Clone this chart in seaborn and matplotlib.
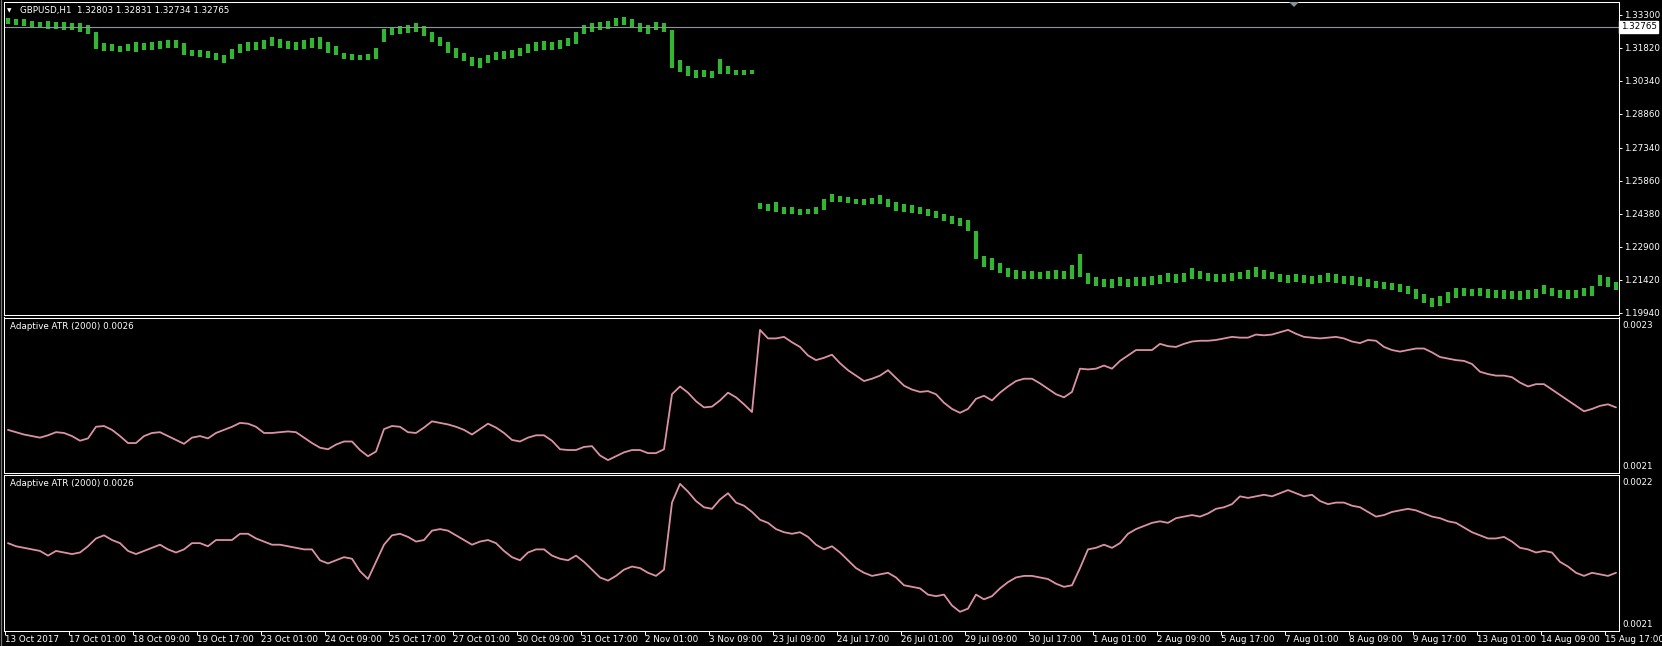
import numpy as np
import pandas as pd
import seaborn as sns
import matplotlib.pyplot as plt
from matplotlib.lines import Line2D
from matplotlib.patches import Polygon

# header texts
symbol_title = "GBPUSD,H1  1.32803 1.32831 1.32734 1.32765"
indicator_title = "Adaptive ATR (2000) 0.0026"
bid_price = 1.32765

# H1 bars, one sample every 4 bars (Oct/Nov 2017 then Jul/Aug)
price_high = [
    1.3316, 1.3311, 1.3311, 1.3302, 1.3297, 1.3302, 1.3297, 1.3297, 1.3292, 1.3292,
    1.3283, 1.3254, 1.3202, 1.3197, 1.3192, 1.3197, 1.3207, 1.3202, 1.3207, 1.3211,
    1.3216, 1.3216, 1.3202, 1.3173, 1.3173, 1.3169, 1.3159, 1.3150, 1.3178, 1.3197,
    1.3207, 1.3207, 1.3216, 1.3230, 1.3221, 1.3211, 1.3207, 1.3216, 1.3226, 1.3230,
    1.3207, 1.3188, 1.3159, 1.3154, 1.3150, 1.3154, 1.3183, 1.3268, 1.3273, 1.3278,
    1.3283, 1.3292, 1.3278, 1.3254, 1.3230, 1.3207, 1.3183, 1.3159, 1.3140, 1.3135,
    1.3150, 1.3164, 1.3169, 1.3173, 1.3183, 1.3197, 1.3207, 1.3211, 1.3207, 1.3216,
    1.3226, 1.3254, 1.3283, 1.3292, 1.3297, 1.3302, 1.3316, 1.3321, 1.3311, 1.3292,
    1.3283, 1.3297, 1.3292, 1.3264, 1.3126, 1.3102, 1.3083, 1.3083, 1.3078, 1.3131,
    1.3102, 1.3083, 1.3083, 1.3083,
    1.2485, 1.2480, 1.2489, 1.2470, 1.2466, 1.2461,
    1.2461, 1.2466, 1.2504, 1.2527, 1.2518, 1.2513, 1.2504, 1.2504, 1.2508, 1.2523,
    1.2504, 1.2489, 1.2480, 1.2475, 1.2470, 1.2461, 1.2451, 1.2437, 1.2428, 1.2418,
    1.2409, 1.2361, 1.2247, 1.2238, 1.2218, 1.2195, 1.2185, 1.2181, 1.2181, 1.2176,
    1.2181, 1.2185, 1.2181, 1.2209, 1.2257, 1.2171, 1.2152, 1.2147, 1.2143, 1.2152,
    1.2147, 1.2152, 1.2152, 1.2157, 1.2162, 1.2171, 1.2166, 1.2171, 1.2195, 1.2181,
    1.2171, 1.2166, 1.2166, 1.2171, 1.2176, 1.2185, 1.2200, 1.2185, 1.2176, 1.2166,
    1.2162, 1.2166, 1.2162, 1.2157, 1.2162, 1.2171, 1.2166, 1.2157, 1.2157, 1.2152,
    1.2143, 1.2138, 1.2133, 1.2128, 1.2124, 1.2114, 1.2100, 1.2076, 1.2062, 1.2067,
    1.2086, 1.2105, 1.2105, 1.2100, 1.2105, 1.2100, 1.2095, 1.2095, 1.2090, 1.2090,
    1.2095, 1.2100, 1.2119, 1.2105, 1.2095, 1.2095, 1.2095, 1.2105, 1.2114, 1.2162,
    1.2152, 1.2133,
]
price_low = [
    1.3287, 1.3283, 1.3278, 1.3273, 1.3273, 1.3268, 1.3268, 1.3264, 1.3264, 1.3254,
    1.3245, 1.3178, 1.3169, 1.3169, 1.3164, 1.3169, 1.3164, 1.3173, 1.3173, 1.3178,
    1.3183, 1.3183, 1.3150, 1.3145, 1.3140, 1.3135, 1.3126, 1.3112, 1.3131, 1.3159,
    1.3169, 1.3173, 1.3178, 1.3188, 1.3183, 1.3178, 1.3173, 1.3178, 1.3183, 1.3178,
    1.3159, 1.3150, 1.3131, 1.3126, 1.3126, 1.3126, 1.3131, 1.3207, 1.3240, 1.3245,
    1.3249, 1.3254, 1.3235, 1.3207, 1.3188, 1.3159, 1.3135, 1.3121, 1.3102, 1.3093,
    1.3112, 1.3126, 1.3131, 1.3135, 1.3145, 1.3159, 1.3169, 1.3173, 1.3173, 1.3178,
    1.3188, 1.3197, 1.3245, 1.3254, 1.3264, 1.3268, 1.3278, 1.3283, 1.3273, 1.3254,
    1.3245, 1.3264, 1.3254, 1.3093, 1.3074, 1.3055, 1.3045, 1.3050, 1.3045, 1.3064,
    1.3064, 1.3059, 1.3059, 1.3064,
    1.2461, 1.2451, 1.2447, 1.2437, 1.2437, 1.2432,
    1.2437, 1.2437, 1.2456, 1.2489, 1.2489, 1.2485, 1.2480, 1.2475, 1.2480, 1.2480,
    1.2466, 1.2451, 1.2447, 1.2442, 1.2437, 1.2428, 1.2418, 1.2404, 1.2394, 1.2385,
    1.2361, 1.2233, 1.2200, 1.2185, 1.2171, 1.2152, 1.2147, 1.2147, 1.2143, 1.2143,
    1.2147, 1.2147, 1.2143, 1.2147, 1.2152, 1.2124, 1.2114, 1.2109, 1.2105, 1.2114,
    1.2109, 1.2114, 1.2114, 1.2119, 1.2124, 1.2133, 1.2128, 1.2133, 1.2147, 1.2143,
    1.2138, 1.2133, 1.2133, 1.2138, 1.2143, 1.2147, 1.2152, 1.2147, 1.2143, 1.2133,
    1.2128, 1.2133, 1.2128, 1.2124, 1.2128, 1.2133, 1.2128, 1.2124, 1.2119, 1.2114,
    1.2109, 1.2105, 1.2100, 1.2095, 1.2086, 1.2076, 1.2057, 1.2038, 1.2019, 1.2024,
    1.2038, 1.2062, 1.2067, 1.2067, 1.2067, 1.2062, 1.2062, 1.2057, 1.2057, 1.2052,
    1.2057, 1.2062, 1.2076, 1.2067, 1.2062, 1.2057, 1.2062, 1.2067, 1.2071, 1.2114,
    1.2109, 1.2095,
]

# Adaptive ATR, upper sub-window
atr_upper = [
    0.002155, 0.002152, 0.002149, 0.002147, 0.002145, 0.002148, 0.002152, 0.002151, 0.002147, 0.002141,
    0.002144, 0.002159, 0.002160, 0.002155, 0.002147, 0.002138, 0.002138, 0.002147, 0.002151, 0.002152,
    0.002147, 0.002142, 0.002137, 0.002145, 0.002147, 0.002144, 0.002151, 0.002155, 0.002159, 0.002164,
    0.002163, 0.002159, 0.002151, 0.002151, 0.002152, 0.002153, 0.002152, 0.002145, 0.002138, 0.002132,
    0.002130, 0.002136, 0.002140, 0.002140, 0.002129, 0.002121, 0.002127, 0.002156, 0.002160, 0.002159,
    0.002152, 0.002151, 0.002158, 0.002166, 0.002164, 0.002162, 0.002159, 0.002155, 0.002149, 0.002156,
    0.002163, 0.002158, 0.002151, 0.002142, 0.002140, 0.002145, 0.002148, 0.002148, 0.002141, 0.002130,
    0.002129, 0.002129, 0.002133, 0.002134, 0.002122, 0.002116, 0.002121, 0.002126, 0.002129, 0.002129,
    0.002125, 0.002125, 0.002130, 0.002201, 0.002211, 0.002203, 0.002192, 0.002184, 0.002185, 0.002193,
    0.002203, 0.002197, 0.002188, 0.002178, 0.002284, 0.002273, 0.002273, 0.002275, 0.002268, 0.002262,
    0.002251, 0.002245, 0.002248, 0.002252, 0.002241, 0.002232, 0.002225, 0.002218, 0.002221, 0.002225,
    0.002232, 0.002222, 0.002212, 0.002207, 0.002204, 0.002205, 0.002201, 0.002190, 0.002182, 0.002177,
    0.002182, 0.002195, 0.002199, 0.002193, 0.002203, 0.002211, 0.002218, 0.002221, 0.002221, 0.002215,
    0.002208, 0.002201, 0.002197, 0.002204, 0.002234, 0.002233, 0.002234, 0.002238, 0.002234, 0.002244,
    0.002251, 0.002258, 0.002258, 0.002258, 0.002266, 0.002263, 0.002262, 0.002266, 0.002269, 0.002270,
    0.002270, 0.002271, 0.002273, 0.002275, 0.002274, 0.002274, 0.002278, 0.002277, 0.002278, 0.002281,
    0.002284, 0.002279, 0.002275, 0.002274, 0.002273, 0.002274, 0.002275, 0.002273, 0.002269, 0.002267,
    0.002271, 0.002270, 0.002262, 0.002258, 0.002256, 0.002258, 0.002260, 0.002260, 0.002255, 0.002249,
    0.002247, 0.002245, 0.002244, 0.002240, 0.002230, 0.002227, 0.002225, 0.002225, 0.002223, 0.002216,
    0.002211, 0.002214, 0.002214, 0.002207, 0.002200, 0.002193, 0.002186, 0.002179, 0.002182, 0.002186,
    0.002188, 0.002184,
]

# Adaptive ATR, lower sub-window
atr_lower = [
    0.002156, 0.002154, 0.002153, 0.002152, 0.002151, 0.002148, 0.002151, 0.002150, 0.002149, 0.002150,
    0.002154, 0.002159, 0.002161, 0.002158, 0.002156, 0.002151, 0.002149, 0.002151, 0.002153, 0.002155,
    0.002152, 0.002150, 0.002152, 0.002156, 0.002156, 0.002154, 0.002158, 0.002158, 0.002158, 0.002162,
    0.002162, 0.002159, 0.002157, 0.002155, 0.002155, 0.002154, 0.002153, 0.002152, 0.002152, 0.002145,
    0.002143, 0.002145, 0.002147, 0.002146, 0.002138, 0.002133, 0.002144, 0.002155, 0.002161, 0.002162,
    0.002160, 0.002157, 0.002158, 0.002164, 0.002165, 0.002164, 0.002161, 0.002158, 0.002155, 0.002157,
    0.002158, 0.002156, 0.002151, 0.002147, 0.002145, 0.002150, 0.002152, 0.002152, 0.002148, 0.002146,
    0.002145, 0.002148, 0.002144, 0.002139, 0.002134, 0.002132, 0.002135, 0.002139, 0.002141, 0.002140,
    0.002137, 0.002135, 0.002139, 0.002182, 0.002194, 0.002189, 0.002183, 0.002179, 0.002178, 0.002184,
    0.002188, 0.002182, 0.002180, 0.002176, 0.002171, 0.002169, 0.002165, 0.002163, 0.002162, 0.002163,
    0.002160, 0.002155, 0.002152, 0.002154, 0.002150, 0.002145, 0.002140, 0.002137, 0.002135, 0.002136,
    0.002137, 0.002134, 0.002129, 0.002128, 0.002127, 0.002123, 0.002122, 0.002123, 0.002116, 0.002112,
    0.002114, 0.002123, 0.002120, 0.002122, 0.002127, 0.002131, 0.002134, 0.002135, 0.002135, 0.002134,
    0.002133, 0.002130, 0.002128, 0.002129, 0.002140, 0.002152, 0.002153, 0.002155, 0.002153, 0.002156,
    0.002162, 0.002165, 0.002167, 0.002169, 0.002170, 0.002169, 0.002172, 0.002173, 0.002174, 0.002173,
    0.002175, 0.002178, 0.002179, 0.002181, 0.002186, 0.002185, 0.002186, 0.002187, 0.002186, 0.002188,
    0.002190, 0.002188, 0.002186, 0.002187, 0.002183, 0.002181, 0.002182, 0.002182, 0.002180, 0.002179,
    0.002176, 0.002173, 0.002174, 0.002176, 0.002177, 0.002178, 0.002177, 0.002175, 0.002173, 0.002172,
    0.002170, 0.002169, 0.002166, 0.002163, 0.002161, 0.002159, 0.002159, 0.002160, 0.002157, 0.002153,
    0.002152, 0.002150, 0.002151, 0.002150, 0.002144, 0.002141, 0.002137, 0.002135, 0.002137, 0.002136,
    0.002135, 0.002137,
]

time_labels = [
    "13 Oct 2017", "17 Oct 01:00", "18 Oct 09:00", "19 Oct 17:00", "23 Oct 01:00",
    "24 Oct 09:00", "25 Oct 17:00", "27 Oct 01:00", "30 Oct 09:00", "31 Oct 17:00",
    "2 Nov 01:00", "3 Nov 09:00", "23 Jul 09:00", "24 Jul 17:00", "26 Jul 01:00",
    "29 Jul 09:00", "30 Jul 17:00", "1 Aug 01:00", "2 Aug 09:00", "5 Aug 17:00",
    "7 Aug 01:00", "8 Aug 09:00", "9 Aug 17:00", "13 Aug 01:00", "14 Aug 09:00",
    "15 Aug 17:00",
]
price_ticks = [1.33300, 1.31820, 1.30340, 1.28860, 1.27340, 1.25860,
               1.24380, 1.22900, 1.21420, 1.19940]

# ---- layout (pixel based, like the terminal window) ----
W, H = 1662, 646
FS = 6.3
BAR_GREEN = "#33b533"
ATR_PINK = "#dc92a5"

sns.set_style("dark", {"axes.facecolor": "black", "figure.facecolor": "black"})
plt.rcParams["font.family"] = ["DejaVu Sans"]

bars_per_sample = 4
bar_x = np.arange(len(price_high)) * bars_per_sample + 1.5
df = pd.DataFrame({"bar": bar_x, "high": price_high, "low": price_low,
                   "atr_upper": atr_upper, "atr_lower": atr_lower})

fig = plt.figure(figsize=(W / 100, H / 100), dpi=100, facecolor="black")


def add_px_axes(x0, y0, x1, y1):
    return fig.add_axes([x0 / W, 1 - y1 / H, (x1 - x0) / W, (y1 - y0) / H])


ax1 = add_px_axes(4, 1.5, 1619, 315)
ax2 = add_px_axes(4, 317.5, 1619, 472.5)
ax3 = add_px_axes(4, 474.5, 1619, 630.5)

for ax in (ax1, ax2, ax3):
    ax.set_facecolor("black")
    ax.set_xlim(-0.5, 807)
    for s in ax.spines.values():
        s.set_color("white")
        s.set_linewidth(0.75)
    ax.grid(False)
    ax.yaxis.tick_right()
    ax.tick_params(axis="x", bottom=False, labelbottom=False)

# price window
ax1.vlines(df["bar"], df["low"], df["high"], colors=BAR_GREEN, linewidth=3.0)
ax1.axhline(bid_price, color="#8e949c", linewidth=0.8)
ax1.set_ylim(1.19837, 1.33897)
ax1.set_yticks(price_ticks)
ax1.set_yticklabels([f"{p:.5f}" for p in price_ticks])
ax1.tick_params(axis="y", right=True, colors="white", length=2.2, width=0.7,
                pad=1.5, labelsize=FS)
ax1.annotate(f"{bid_price:.5f}", xy=(1, bid_price), xycoords=ax1.get_yaxis_transform(),
             xytext=(1.2, 0), textcoords="offset points", ha="left", va="center",
             color="black", fontsize=FS,
             bbox=dict(boxstyle="square,pad=0.18", fc="white", ec="white"))

# indicator windows
for ax, col, lo, hi in ((ax2, "atr_upper", 0.0021, 0.0023), (ax3, "atr_lower", 0.0021, 0.0022)):
    sns.lineplot(data=df, x="bar", y=col, ax=ax, color=ATR_PINK, linewidth=1.3)
    ax.set_ylim(lo, hi)
    ax.set_xlabel("")
    ax.set_ylabel("")
    ax.set_yticks([])
    ax.annotate(f"{hi:.4f}", xy=(1, hi), xycoords=ax.get_yaxis_transform(),
                xytext=(2.2, -2.2), textcoords="offset points", ha="left", va="top",
                color="white", fontsize=FS)
    ax.annotate(f"{lo:.4f}", xy=(1, lo), xycoords=ax.get_yaxis_transform(),
                xytext=(2.2, 1.2), textcoords="offset points", ha="left", va="bottom",
                color="white", fontsize=FS)

# time axis on the bottom window
label_step = 32
ax3.set_xticks(np.arange(len(time_labels)) * label_step)
ax3.set_xticklabels(time_labels, ha="left")
ax3.tick_params(axis="x", bottom=True, labelbottom=True, colors="white",
                length=2.6, width=0.7, pad=1.0, labelsize=FS)
ax2.set_xticks([])

# window texts
fig.text(7 / W, 1 - 10.5 / H, "\u25bc", color="white", fontsize=4.2, va="center")
fig.text(20 / W, 1 - 10 / H, symbol_title, color="white", fontsize=FS, va="center")
fig.text(9.5 / W, 1 - 326.5 / H, indicator_title, color="white", fontsize=FS, va="center")
fig.text(9.5 / W, 1 - 483.5 / H, indicator_title, color="white", fontsize=FS, va="center")

# chart shift marker and window edge
fig.add_artist(Polygon([[1289 / W, 1 - 2 / H], [1299 / W, 1 - 2 / H], [1294 / W, 1 - 7 / H]],
                       closed=True, fc="#8a9098", ec="none", transform=fig.transFigure))
fig.add_artist(Line2D([0.6 / W, 0.6 / W], [0, 1], color="#7a7a7a", linewidth=0.9,
                      transform=fig.transFigure))

fig.savefig("out.png", dpi=100, facecolor="black")
